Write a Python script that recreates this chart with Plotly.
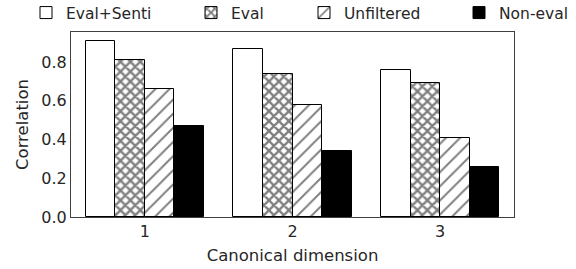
import plotly.graph_objects as go

categories = [1, 2, 3]
series_names = ["Eval+Senti", "Eval", "Unfiltered", "Non-eval"]
eval_senti = [0.91, 0.87, 0.76]
eval_only = [0.81, 0.74, 0.69]
unfiltered = [0.66, 0.58, 0.41]
non_eval = [0.47, 0.34, 0.26]
y_ticks = [0.0, 0.2, 0.4, 0.6, 0.8]

series_values = [eval_senti, eval_only, unfiltered, non_eval]
offsets = [-0.3, -0.1, 0.1, 0.3]
styles = [
    dict(color="white", pattern=dict(shape="")),
    dict(color="white", pattern=dict(shape="x", fgcolor="black", bgcolor="white", size=7, solidity=0.55, fillmode="overlay")),
    dict(color="white", pattern=dict(shape="/", fgcolor="black", bgcolor="white", size=10, solidity=0.2, fillmode="overlay")),
    dict(color="black", pattern=dict(shape="")),
]
legend_x = [26, 191, 304, 459]

FONT = "DejaVu Sans"
TXT = "#262626"

fig = go.Figure()
for i, (name, vals) in enumerate(zip(series_names, series_values)):
    fig.add_trace(go.Bar(
        x=[c + offsets[i] for c in categories],
        y=vals,
        width=0.2,
        name=name,
        marker=dict(color=styles[i]["color"], pattern=styles[i]["pattern"],
                    line=dict(color="black", width=1)),
        legend="legend" if i == 0 else f"legend{i+1}",
    ))

legend_common = dict(orientation="h", xref="container", yref="container",
                     yanchor="middle", y=1 - 13 / 269, xanchor="left",
                     font=dict(family=FONT, size=15.5, color=TXT),
                     bgcolor="rgba(0,0,0,0)", itemwidth=30)
layout_legends = {}
for i in range(4):
    key = "legend" if i == 0 else f"legend{i+1}"
    layout_legends[key] = dict(legend_common, x=legend_x[i] / 576)

fig.update_layout(
    width=576, height=269,
    margin=dict(l=71, r=62, t=32, b=52, autoexpand=False),
    plot_bgcolor="white", paper_bgcolor="white",
    font=dict(family=FONT, color=TXT),
    bargap=0, barmode="overlay",
    showlegend=True,
    **layout_legends,
)
fig.update_xaxes(
    range=[0.5, 3.5], tickvals=categories, ticktext=[str(c) for c in categories],
    showgrid=False, zeroline=False, showline=True, mirror=True,
    linecolor="#404040", linewidth=1.2, ticks="", automargin=False,
    tickfont=dict(family=FONT, size=16, color=TXT),
    title=dict(text="Canonical dimension", font=dict(family=FONT, size=16.5, color=TXT), standoff=9),
)
fig.update_yaxes(
    range=[0, 0.9555], tickvals=y_ticks, tickformat=".1f",
    showgrid=False, zeroline=False, showline=True, mirror=True,
    linecolor="#404040", linewidth=1.2, ticks="", automargin=False,
    tickfont=dict(family=FONT, size=16, color=TXT),
    title=dict(text="Correlation", font=dict(family=FONT, size=16.5, color=TXT), standoff=8),
)
fig.write_html("out.html", config={"displayModeBar": False},
               post_script="document.body.style.margin='0';")
